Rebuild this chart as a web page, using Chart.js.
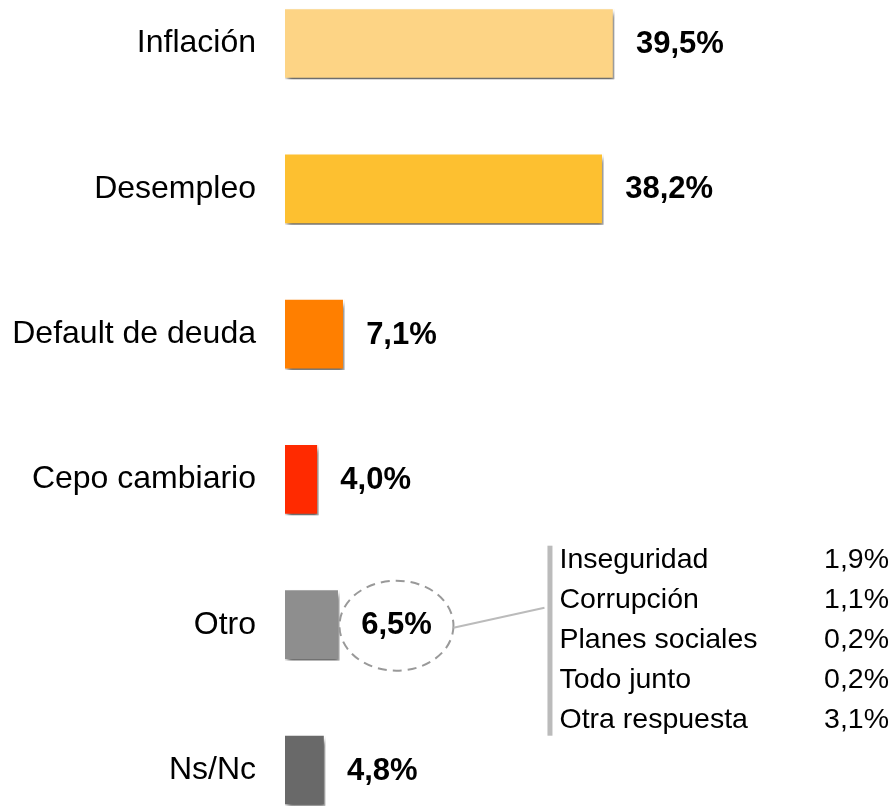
<!DOCTYPE html>
<html><head><meta charset="utf-8">
<script src="https://cdn.jsdelivr.net/npm/chart.js@4/dist/chart.umd.min.js"></script>
<style>html,body{margin:0;padding:0;background:#fff}#wrap{width:894px;height:808px}</style>
</head><body><div id="wrap"><canvas id="c"></canvas></div>
<script>
const categories = ["Inflación","Desempleo","Default de deuda","Cepo cambiario","Otro","Ns/Nc"];
const values = [39.5, 38.2, 7.1, 4.0, 6.5, 4.8];
const valueLabels = ["39,5%","38,2%","7,1%","4,0%","6,5%","4,8%"];
const barColors = ["#FDD485","#FDC030","#FF7F00","#FF2A00","#8E8E8E","#696969"];
const otroLabels = ["Inseguridad","Corrupción","Planes sociales","Todo junto","Otra respuesta"];
const otroValues = ["1,9%","1,1%","0,2%","0,2%","3,1%"];
const FONT = '"Liberation Sans", Arial, sans-serif';

const shadowPlugin = {
  id: 'shadow',
  beforeDatasetsDraw(chart) {
    const ctx = chart.ctx;
    ctx.save();
    ctx.shadowColor = 'rgba(0,0,0,0.6)';
    ctx.shadowBlur = 5;
    ctx.shadowOffsetX = 2;
    ctx.shadowOffsetY = 5;
  },
  afterDatasetsDraw(chart) {
    const ctx = chart.ctx;
    ctx.restore();
    const meta = chart.getDatasetMeta(0);
    ctx.save();
    ctx.font = 'bold 31px ' + FONT;
    ctx.fillStyle = '#000';
    ctx.textBaseline = 'middle';
    ctx.textAlign = 'left';
    const otroIdx = categories.indexOf("Otro");
    meta.data.forEach((bar, i) => {
      const x = bar.x + 22;
      ctx.fillText(valueLabels[i], x, bar.y + 1);
      if (i === otroIdx) {
        const w = ctx.measureText(valueLabels[i]).width;
        const cx = x + w / 2, cy = bar.y + 1;
        ctx.save();
        ctx.strokeStyle = '#999';
        ctx.lineWidth = 2;
        ctx.setLineDash([9, 6]);
        ctx.beginPath();
        ctx.ellipse(cx, cy, 57, 45, 0, 0, Math.PI * 2);
        ctx.stroke();
        ctx.setLineDash([]);
        ctx.strokeStyle = '#bbb';
        ctx.lineWidth = 2;
        ctx.beginPath();
        ctx.moveTo(cx + 57, cy + 2);
        ctx.lineTo(cx + 148, cy - 18);
        ctx.stroke();
        ctx.fillStyle = '#bbb';
        ctx.fillRect(cx + 151, cy - 80, 5, 190);
        ctx.fillStyle = '#000';
        ctx.font = '28.5px ' + FONT;
        ctx.textBaseline = 'alphabetic';
        otroLabels.forEach((lab, k) => {
          const by = cy - 58 + k * 40;
          ctx.textAlign = 'left';
          ctx.fillText(lab, cx + 163, by);
          ctx.textAlign = 'right';
          ctx.fillText(otroValues[k], 889, by);
        });
        ctx.restore();
      }
    });
    ctx.restore();
  }
};

new Chart(document.getElementById('c'), {
  type: 'bar',
  data: {
    labels: categories,
    datasets: [{
      data: values,
      backgroundColor: barColors,
      borderColor: '#ffffff',
      borderWidth: 1.5,
      barThickness: 71,
      clip: false
    }]
  },
  options: {
    indexAxis: 'y',
    responsive: true,
    maintainAspectRatio: false,
    animation: false,
    layout: { padding: { top: 43.5, bottom: 38, left: 0, right: 26 } },
    plugins: { legend: { display: false }, tooltip: { enabled: false } },
    scales: {
      x: { display: false, min: 0, max: 70 },
      y: {
        offset: false,
        grid: { display: false, drawTicks: false },
        border: { display: false },
        ticks: { color: '#000', padding: 29, font: { family: FONT, size: 32 } },
        afterFit(s) { s.width = 285; s.paddingTop = 0; s.paddingBottom = 0; }
      }
    }
  },
  plugins: [shadowPlugin]
});
</script>
</body></html>
